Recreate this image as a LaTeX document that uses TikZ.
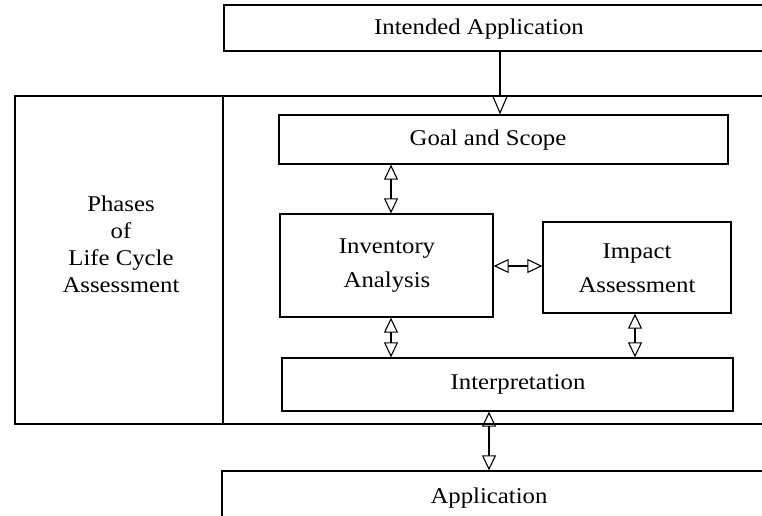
\documentclass[tikz,border=0pt]{standalone}
\usepackage{fontspec}
\setmainfont{Liberation Serif}[FakeStretch=1.1]
\usetikzlibrary{arrows.meta}
\begin{document}
\begin{tikzpicture}[x=1pt,y=-1pt,
  box/.style={draw=black, line width=1.3pt, inner sep=0pt, rectangle},
  txt/.style={font=\fontsize{22.5}{27}\selectfont, align=center, inner sep=0pt},
  link/.style={draw=black, line width=1.1pt, -{Triangle[open, length=19pt, width=16pt, line width=1.1pt]}},
  dbl/.style={draw=black, line width=1.1pt, {Triangle[open, length=15pt, width=14pt, line width=1.1pt]}-{Triangle[open, length=15pt, width=14pt, line width=1.1pt]}}]
\useasboundingbox (0,0) rectangle (762,516);
\fill[white] (0,0) rectangle (762,516);
\clip (0,0) rectangle (762,516);
% boxes
\node[box, minimum width=556pt, minimum height=46pt] (intended) at (502,28) {};
\node[box, minimum width=208pt, minimum height=328pt] (phases) at (119,260) {};
\node[box, minimum width=557pt, minimum height=328pt] (frame) at (501.5,260) {};
\node[box, minimum width=449pt, minimum height=49pt] (goal) at (503.5,139.5) {};
\node[box, minimum width=213pt, minimum height=103pt] (inv) at (386.5,265.5) {};
\node[box, minimum width=188pt, minimum height=91pt] (imp) at (637,267.5) {};
\node[box, minimum width=451pt, minimum height=53pt] (interp) at (507.5,384.5) {};
\node[box, minimum width=558pt, minimum height=59pt] (app) at (501,500.5) {};
% texts
\node[txt] (tintended) at (479,29) {Intended Application};
\node[txt] (tphases) at (121,244) {Phases\\of\\Life Cycle\\Assessment};
\node[txt] (tgoal) at (488,140) {Goal and Scope};
\node[txt, font=\fontsize{22.5}{34}\selectfont] (tinv) at (387,266) {Inventory\\Analysis};
\node[txt, font=\fontsize{22.5}{34}\selectfont] (timp) at (637,268) {Impact\\Assessment};
\node[txt] (tinterp) at (518,384) {Interpretation};
\node[txt] (tapp) at (489,498) {Application};
% connector columns
\coordinate (c0) at (500,0);
\coordinate (c1) at (391,0);
\coordinate (c2) at (635,0);
\coordinate (c3) at (489,0);
\coordinate (r1) at (0,266);
% connectors
\draw[link] (intended.south -| c0) -- (goal.north -| c0);
\draw[dbl] (goal.south -| c1) -- (inv.north -| c1);
\draw[dbl] (inv.east |- r1) -- (imp.west |- r1);
\draw[dbl] (inv.south -| c1) -- (interp.north -| c1);
\draw[dbl] (imp.south -| c2) -- (interp.north -| c2);
\draw[dbl] (interp.south -| c3) -- (app.north -| c3);
\end{tikzpicture}
\end{document}
